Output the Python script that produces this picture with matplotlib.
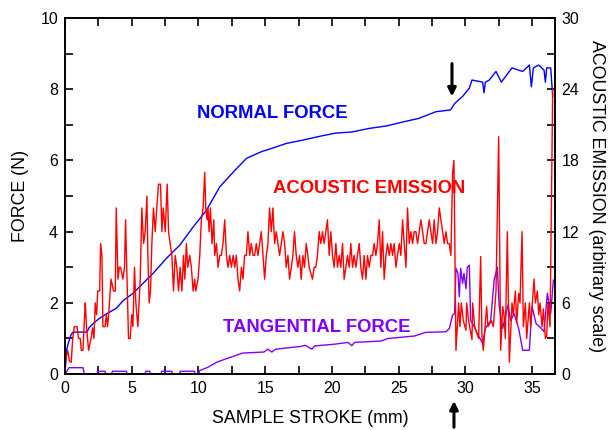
import matplotlib
matplotlib.use("Agg")
import matplotlib.pyplot as plt
from matplotlib.ticker import MultipleLocator

plt.rcParams['font.family'] = ['Liberation Sans', 'DejaVu Sans']

# ------------------- DATA ------------------- #

# normal force (N) vs sample stroke (mm)
normal_x = [0.0, 0.12, 0.25, 0.45, 0.6, 1.65, 1.8, 2.2, 2.6, 3.1, 3.85, 4.35, 5.1, 5.85,
            6.6, 7.6, 8.6, 9.6, 10.6, 11.6, 12.6, 13.6, 14.8, 15.1, 16.6, 17.8, 19.1,
            20.3, 21.5, 22.8, 24.1, 25.3, 26.5, 27.8, 28.9, 29.2, 29.8, 30.3, 30.5,
            31.3, 31.4, 31.5, 31.8, 32.3, 32.7, 33.5, 34.3, 34.8, 34.95, 35.1, 35.5,
            35.9, 36.0, 36.1, 36.4, 36.55]
normal_y = [0.0, 0.67, 0.87, 1.1, 1.18, 1.18, 1.3, 1.45, 1.57, 1.69, 1.85, 2.06, 2.27, 2.55,
            2.83, 3.25, 3.62, 4.13, 4.6, 5.26, 5.67, 6.06, 6.26, 6.29, 6.48, 6.57, 6.68,
            6.77, 6.8, 6.9, 6.97, 7.08, 7.18, 7.37, 7.42, 7.6, 7.8, 8.03, 8.26,
            8.2, 7.9, 8.2, 8.26, 8.5, 8.2, 8.6, 8.5, 8.68, 8.07, 8.6, 8.68,
            8.54, 8.2, 8.6, 8.6, 7.8]

# tangential force (N)
tang_x = [0.0, 0.3, 1.35, 1.45, 2.4, 2.45, 3.0, 3.05, 3.5, 3.55, 4.6, 4.65, 6.0, 6.05,
          6.35, 6.4, 7.2, 7.25, 8.0, 8.05, 8.6, 8.65, 9.7, 9.75, 10.0, 10.1, 10.7, 11.35,
          12.0, 12.7, 13.3, 14.9, 15.2, 15.5, 15.8, 17.7, 18.0, 18.5, 18.7, 20.2, 21.2,
          21.5, 21.7, 23.7, 24.2, 26.2, 27.0, 28.55, 28.8, 29.05, 29.2, 29.3, 29.45,
          29.55, 29.65, 29.8, 29.9, 30.05, 30.15, 30.3, 30.4, 30.67, 30.9, 31.3, 31.5,
          31.9, 32.16, 32.4, 32.54, 32.8, 33.2, 33.4, 33.66, 34.0, 34.3, 34.8, 35.0,
          35.3, 35.65, 35.9, 36.15, 36.4, 36.6]
tang_y = [0.0, 0.18, 0.18, 0.0, 0.0, 0.08, 0.08, 0.0, 0.0, 0.08, 0.08, 0.0, 0.0, 0.08,
          0.08, 0.0, 0.0, 0.08, 0.08, 0.0, 0.0, 0.08, 0.08, 0.0, 0.0, 0.1, 0.19, 0.33,
          0.42, 0.51, 0.59, 0.62, 0.7, 0.62, 0.7, 0.78, 0.81, 0.7, 0.79, 0.84, 0.89,
          0.8, 0.89, 0.93, 1.0, 1.07, 1.17, 1.19, 1.28, 1.66, 1.7, 2.97, 2.83,
          2.17, 2.97, 2.55, 2.83, 2.4, 3.0, 3.06, 1.5, 1.33, 1.14, 0.86, 1.28,
          1.5, 2.64, 3.0, 1.9, 1.28, 1.94, 1.5, 1.7, 1.28, 0.67, 0.67, 1.9,
          1.42, 1.3, 1.19, 2.27, 1.7, 2.64]

# acoustic emission (arbitrary units)
ae_x = [0.0, 0.07, 0.2, 0.33, 0.47, 0.57, 0.7, 0.9, 1.02, 1.15, 1.22, 1.35, 1.47, 1.52,
        1.62, 1.77, 1.95, 2.07, 2.17, 2.27, 2.37, 2.45, 2.6, 2.67, 2.77, 2.84, 3.0, 3.1,
        3.19, 3.27, 3.45, 3.64, 3.77, 3.84, 3.97, 4.07, 4.17, 4.34, 4.46, 4.54, 4.76,
        4.89, 5.0, 5.09, 5.21, 5.31, 5.46, 5.64, 5.76, 5.89, 6.01, 6.14, 6.21, 6.31,
        6.41, 6.51, 6.63, 6.76, 6.88, 7.01, 7.16, 7.26, 7.36, 7.51, 7.66, 7.76, 7.88,
        8.01, 8.13, 8.26, 8.38, 8.51, 8.63, 8.76, 8.88, 8.98, 9.1, 9.2, 9.35, 9.47, 9.6,
        9.72, 9.8, 9.97, 10.1, 10.22, 10.35, 10.47, 10.55, 10.65, 10.72, 10.8, 10.9,
        11.02, 11.15, 11.22, 11.35, 11.47, 11.6, 11.72, 11.84, 11.97, 12.1, 12.22,
        12.34, 12.47, 12.6, 12.72, 12.84, 12.97, 13.09, 13.22, 13.34, 13.46, 13.59,
        13.71, 13.84, 13.96, 14.09, 14.21, 14.34, 14.46, 14.59, 14.71, 14.84, 14.96,
        15.09, 15.21, 15.33, 15.46, 15.58, 15.71, 15.83, 15.96, 16.08, 16.21, 16.33,
        16.46, 16.58, 16.71, 16.83, 16.96, 17.08, 17.2, 17.33, 17.45, 17.58, 17.7,
        17.83, 17.95, 18.08, 18.2, 18.3, 18.55, 18.67, 18.8, 18.92, 19.05, 19.17, 19.3,
        19.42, 19.55, 19.67, 19.8, 19.92, 20.05, 20.17, 20.3, 20.42, 20.55, 20.67,
        20.8, 20.92, 21.05, 21.17, 21.3, 21.42, 21.55, 21.67, 21.8, 21.92, 22.05,
        22.17, 22.3, 22.42, 22.55, 22.67, 22.8, 22.92, 23.05, 23.17, 23.3, 23.42,
        23.55, 23.67, 23.8, 23.92, 24.05, 24.17, 24.3, 24.42, 24.55, 24.67, 24.8,
        24.92, 25.05, 25.17, 25.3, 25.42, 25.55, 25.67, 25.8, 25.92, 26.05, 26.17,
        26.3, 26.42, 26.55, 26.67, 26.8, 26.92, 27.05, 27.17, 27.3, 27.42, 27.55,
        27.67, 27.8, 27.92, 28.05, 28.17, 28.3, 28.42, 28.55, 28.67, 28.8, 28.92,
        29.05, 29.15, 29.3, 29.5, 29.6, 29.7, 29.85, 30.05, 30.1, 30.25, 30.5, 30.55,
        30.7, 31.0, 31.15, 31.25, 31.35, 31.5, 31.6, 31.7, 31.95, 32.1, 32.3, 32.5,
        32.65, 32.8, 32.9, 33.0, 33.15, 33.3, 33.5, 33.6, 33.75, 33.85, 34.0, 34.1,
        34.25, 34.35, 34.5, 34.6, 34.8, 34.9, 35.15, 35.25, 35.4, 35.5, 35.6, 35.75,
        35.85, 36.0, 36.1, 36.2, 36.35, 36.55]
ae_y = [0.5, 1.3, 2.0, 1.1, 1.0, 2.9, 4.0, 4.0, 3.0, 3.0, 2.0, 2.0, 5.0, 6.0,
        3.9, 2.0, 3.0, 3.9, 3.0, 6.0, 5.0, 7.0, 7.0, 11.0, 10.0, 4.0, 4.0, 5.0,
        4.0, 5.0, 8.0, 7.0, 7.0, 14.0, 8.0, 9.0, 9.0, 8.0, 9.0, 13.0, 3.0,
        3.0, 5.0, 4.0, 9.0, 6.0, 4.0, 8.0, 14.0, 11.0, 12.0, 15.0, 10.0, 6.0,
        7.0, 11.0, 14.0, 12.0, 14.0, 16.0, 16.0, 12.0, 14.0, 12.0, 16.0, 12.0, 11.0,
        10.0, 7.0, 10.0, 9.0, 7.0, 9.0, 7.0, 10.0, 8.0, 11.0, 9.0, 10.0, 9.0, 7.0,
        8.0, 7.0, 8.0, 10.0, 13.0, 14.0, 17.0, 14.0, 13.0, 14.0, 12.0, 14.0,
        11.0, 13.0, 10.0, 11.0, 9.0, 10.0, 10.0, 11.0, 13.0, 10.0, 9.0,
        10.0, 9.0, 10.0, 9.0, 10.0, 8.0, 7.0, 9.0, 8.0, 10.0, 10.0,
        12.0, 10.0, 11.0, 10.0, 10.0, 11.0, 10.0, 11.0, 12.0, 10.0, 8.0,
        10.0, 11.0, 14.0, 12.0, 14.0, 11.0, 12.0, 11.0, 10.0, 11.0, 12.0,
        11.0, 9.0, 10.0, 8.0, 9.0, 10.0, 12.0, 10.0, 9.0, 10.0, 8.0,
        10.0, 9.0, 11.0, 10.0, 9.0, 8.0, 9.0, 9.0, 10.0, 12.0, 11.0, 12.0,
        11.0, 12.0, 13.0, 10.0, 12.0, 10.0, 9.0, 11.0, 9.0, 10.0, 9.0,
        11.0, 8.0, 9.0, 10.0, 9.0, 11.0, 9.0, 10.0, 9.0, 10.0, 11.0,
        9.0, 8.0, 10.0, 8.0, 10.0, 9.0, 10.0, 10.0, 11.0, 10.0, 11.0,
        13.0, 9.0, 12.0, 8.0, 10.0, 11.0, 10.0, 11.0, 10.0, 11.0, 9.0,
        10.0, 11.0, 10.0, 13.0, 11.0, 9.0, 14.0, 11.0, 12.0, 11.0, 12.0,
        12.0, 11.0, 12.0, 13.0, 12.0, 11.0, 11.0, 12.0, 13.0, 12.0, 11.0,
        13.0, 11.0, 12.0, 14.0, 13.0, 12.0, 11.0, 12.0, 11.0, 11.0, 10.0,
        17.0, 18.0, 2.0, 6.0, 4.0, 6.0, 4.5, 3.7, 6.0, 4.5, 2.9, 6.0,
        4.0, 3.0, 9.9, 3.1, 2.0, 4.3, 5.7, 4.0, 4.5, 4.0, 7.0, 20.0,
        2.0, 5.7, 5.0, 3.0, 12.0, 1.0, 6.0, 5.0, 7.0, 4.3, 6.8, 6.0,
        12.0, 4.0, 6.0, 3.0, 6.0, 4.0, 8.0, 6.0, 7.0, 5.0, 6.0, 4.0,
        5.5, 3.0, 3.2, 6.0, 4.0, 24.0]

# ------------------- PLOT ------------------- #

fig = plt.figure(figsize=(6.16, 4.30), dpi=100)
ax = fig.add_axes([0.1055, 0.130, 0.795, 0.828])
ax2 = ax.twinx()

ax.plot(normal_x, normal_y, color='#0000ff', lw=1.0)
ax.plot(tang_x, tang_y, color='#8000ff', lw=1.0)
ax2.plot(ae_x, ae_y, color='#ff0000', lw=1.0)

ax.set_xlim(0, 36.7)
ax.set_ylim(0, 10)
ax2.set_ylim(0, 30)

ax.xaxis.set_major_locator(MultipleLocator(5))
ax.xaxis.set_minor_locator(MultipleLocator(2.5))
ax.yaxis.set_major_locator(MultipleLocator(2))
ax.yaxis.set_minor_locator(MultipleLocator(1))
ax2.yaxis.set_major_locator(MultipleLocator(6))
ax2.yaxis.set_minor_locator(MultipleLocator(3))

ax.tick_params(which='both', direction='in', top=True, right=False, labelsize=11.5,
               width=1.2, length=6, pad=5)
ax2.tick_params(which='both', direction='in', labelsize=11.5, width=1.2, length=6, pad=5)
for a in (ax, ax2):
    for s in a.spines.values():
        s.set_linewidth(1.2)

ax.set_xlabel('SAMPLE STROKE (mm)', fontsize=12.8, labelpad=10)
ax.set_ylabel('FORCE (N)', fontsize=12.8, labelpad=8)
ax2.set_ylabel('ACOUSTIC EMISSION (arbitrary scale)', fontsize=12.8, rotation=-90, labelpad=18)

ax.text(15.5, 7.33, 'NORMAL FORCE', color='#0000ff', fontsize=13.3, fontweight='bold',
        ha='center', va='center')
ax.text(22.8, 5.22, 'ACOUSTIC EMISSION', color='#ff0000', fontsize=13.3, fontweight='bold',
        ha='center', va='center')
ax.text(18.9, 1.32, 'TANGENTIAL FORCE', color='#8000ff', fontsize=13.3, fontweight='bold',
        ha='center', va='center')

# arrows marking the transition
ax.annotate('', xy=(29.0, 7.72), xytext=(29.0, 8.8),
            arrowprops=dict(arrowstyle='-|>', color='black', lw=2.2, mutation_scale=12))
ax.annotate('', xy=(29.15, 0.074), xytext=(29.15, 0.0),
            xycoords=('data', 'figure fraction'), textcoords=('data', 'figure fraction'),
            arrowprops=dict(arrowstyle='-|>', color='black', lw=2.2, mutation_scale=12))

fig.savefig('out.png', dpi=100)
